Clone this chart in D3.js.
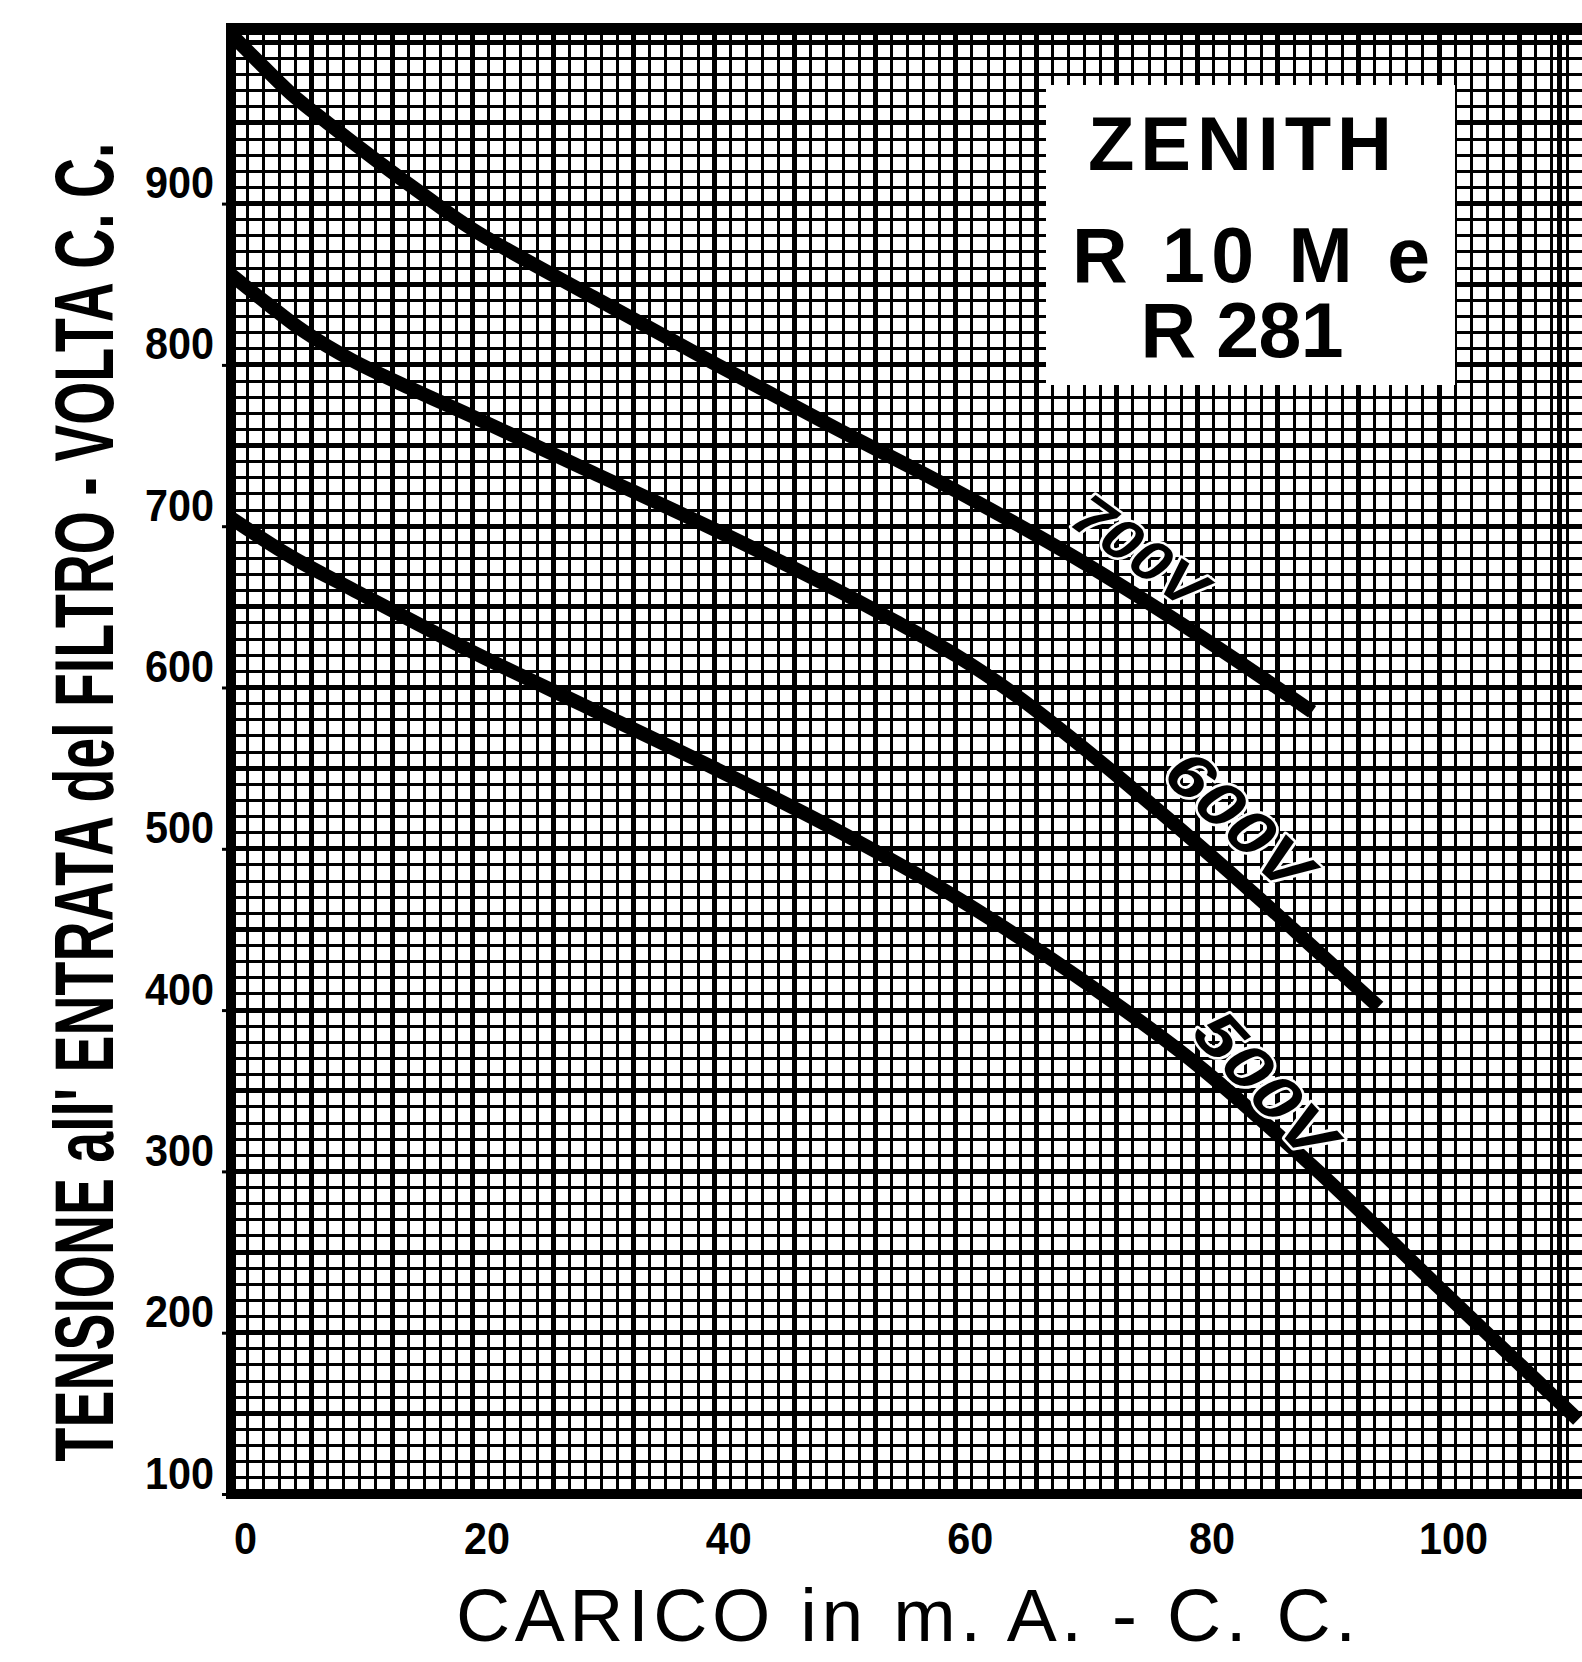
<!DOCTYPE html>
<html>
<head>
<meta charset="utf-8">
<script src="https://cdn.jsdelivr.net/npm/d3@7"></script>
<style>
  html, body { margin: 0; padding: 0; background: #fff; }
  svg { display: block; }
</style>
</head>
<body>
<svg id="chart" width="1582" height="1662"></svg>
<script>
// ---- data ----------------------------------------------------------------
// load current (mA, d.c.) tick labels and input voltage (V, d.c.) tick labels
const loadTicks = [0, 20, 40, 60, 80, 100];
const voltTicks = [100, 200, 300, 400, 500, 600, 700, 800, 900];

// curve names (transformer secondary voltage)
const curveNames = ["700V", "600V", "500V"];

// [load mA, volts at filter input]
const curve700 = [[0, 1005], [2, 990], [5, 968], [8, 950], [12, 927], [16, 905], [20, 884],
                  [30, 842], [40, 801], [50, 761], [60, 722], [70, 680], [80, 633], [89.5, 585]];
const curve600 = [[0, 856], [3, 838], [6, 821], [10, 803], [15, 785], [20, 768], [30, 733],
                  [40, 698], [50, 661], [55, 641], [60, 620], [65, 595], [70, 566], [75, 535],
                  [80, 503], [85, 470], [90, 436], [95, 402]];
const curve500 = [[0, 705], [5, 681], [10, 661], [20, 622], [30, 586], [40, 550], [50, 512],
                  [60, 470], [70, 421], [80, 366], [90, 300], [100, 228], [111.5, 146]];

// graph-paper ruling: one cell = 10 V vertically, 20/15 mA horizontally
const gridStepVolt = 10;
const gridStepLoad = 20 / 15;

const titleLines = ["ZENITH", "R 10 M e", "R 281"];
const xTitle = "CARICO in m. A. - C. C.";
const yTitle = "TENSIONE all' ENTRATA del FILTRO - VOLTA C. C.";

// ---- layout --------------------------------------------------------------
const W = 1582, H = 1662;
const svg = d3.select("#chart");

const x = d3.scaleLinear().domain([0, 112]).range([231, 231 + 112 * 12.08]);
const y = d3.scaleLinear().domain([100, 1008]).range([1494, 1494 - 908 * 1.613]);

const plotLeft = x(0), plotTop = y(1008), plotBottom = y(100), plotRight = W;

svg.append("rect").attr("width", W).attr("height", H).attr("fill", "#fff");

const defs = svg.append("defs");
defs.append("clipPath").attr("id", "plotClip")
  .append("rect")
  .attr("x", plotLeft).attr("y", plotTop)
  .attr("width", plotRight - plotLeft).attr("height", plotBottom - plotTop);

// ---- graph paper ---------------------------------------------------------
const grid = svg.append("g").attr("clip-path", "url(#plotClip)")
  .attr("shape-rendering", "crispEdges").attr("stroke", "#000");

const gx = d3.range(0, 85).map(i => ({ v: i * gridStepLoad, heavy: i % 5 === 0 }));
gx.push({ v: 110, heavy: true });
const gy = d3.range(0, 91).map(i => ({ v: 100 + i * gridStepVolt, heavy: i % 5 === 0 }));

grid.selectAll("line.gx").data(gx).join("line")
  .attr("class", "gx")
  .attr("x1", d => x(d.v)).attr("x2", d => x(d.v))
  .attr("y1", plotTop).attr("y2", plotBottom)
  .attr("stroke-width", d => d.heavy ? 5 : 3);

grid.selectAll("line.gy").data(gy).join("line")
  .attr("class", "gy")
  .attr("x1", plotLeft).attr("x2", plotRight)
  .attr("y1", d => y(d.v)).attr("y2", d => y(d.v))
  .attr("stroke-width", d => d.heavy ? 5 : 3);

// frame: heavy left, top and bottom rules
const frame = svg.append("g").attr("stroke", "#000").attr("shape-rendering", "crispEdges");
frame.append("line").attr("x1", plotLeft).attr("x2", plotLeft)
  .attr("y1", plotTop - 6).attr("y2", plotBottom + 5).attr("stroke-width", 10);
frame.append("line").attr("x1", plotLeft - 5).attr("x2", plotRight)
  .attr("y1", plotTop).attr("y2", plotTop).attr("stroke-width", 12);
frame.append("line").attr("x1", plotLeft - 5).attr("x2", plotRight)
  .attr("y1", plotBottom).attr("y2", plotBottom).attr("stroke-width", 10);

// ---- title panel ---------------------------------------------------------
const panel = svg.append("g");
panel.append("rect")
  .attr("x", 1046).attr("y", 85).attr("width", 409).attr("height", 300)
  .attr("fill", "#fff");
const titleFont = "'Liberation Sans', Arial, Helvetica, sans-serif";
const titleSpec = [
  { cx: 1240, base: 170, size: 76, len: 304 },
  { cx: 1251, base: 282, size: 77, len: 358 },
  { cx: 1242, base: 357, size: 77, len: 203 }
];
panel.selectAll("text").data(titleLines).join("text")
  .attr("x", (d, i) => titleSpec[i].cx)
  .attr("y", (d, i) => titleSpec[i].base)
  .attr("text-anchor", "middle")
  .attr("font-family", titleFont)
  .attr("font-weight", "bold")
  .attr("font-size", (d, i) => titleSpec[i].size)
  .attr("textLength", (d, i) => titleSpec[i].len)
  .attr("lengthAdjust", "spacing")
  .attr("fill", "#000")
  .text(d => d);

// ---- curves --------------------------------------------------------------
const curves = [curve700, curve600, curve500];
const line = d3.line().x(d => x(d[0])).y(d => y(d[1])).curve(d3.curveCatmullRom.alpha(0.5));

svg.append("g").attr("clip-path", "url(#plotClip)")
  .selectAll("path").data(curves).join("path")
  .attr("d", line)
  .attr("fill", "none")
  .attr("stroke", "#000")
  .attr("stroke-width", 14)
  .attr("stroke-linecap", "butt")
  .attr("stroke-linejoin", "round");

// curve labels, set parallel to their curve just above it
function pointAt(data, load) {
  for (let i = 1; i < data.length; i++) {
    if (load <= data[i][0]) {
      const a = data[i - 1], b = data[i];
      const t = (load - a[0]) / (b[0] - a[0]);
      return [x(a[0] + t * (b[0] - a[0])), y(a[1] + t * (b[1] - a[1]))];
    }
  }
  const l = data[data.length - 1];
  return [x(l[0]), y(l[1])];
}
const labelSpec = [
  { at: 73.5, off: 40, size: 58, len: 150, tilt: 4 },
  { at: 81.0, off: 46, size: 64, len: 174, tilt: 2 },
  { at: 84.0, off: 31, size: 64, len: 176, tilt: 6 }
];
const labels = svg.append("g");
curves.forEach((data, k) => {
  const s = labelSpec[k];
  const p0 = pointAt(data, s.at - 3), p1 = pointAt(data, s.at + 3), pc = pointAt(data, s.at);
  const ang = Math.atan2(p1[1] - p0[1], p1[0] - p0[0]);
  const cx = pc[0] + Math.sin(ang) * s.off;
  const cy = pc[1] - Math.cos(ang) * s.off;
  labels.append("text")
    .attr("transform", `translate(${cx},${cy}) rotate(${ang * 180 / Math.PI + s.tilt})`)
    .attr("text-anchor", "middle")
    .attr("dy", "0.36em")
    .attr("font-family", titleFont)
    .attr("font-weight", "bold")
    .attr("font-style", "italic")
    .attr("font-size", s.size)
    .attr("textLength", s.len)
    .attr("lengthAdjust", "spacingAndGlyphs")
    .attr("fill", "#000")
    .attr("stroke", "#fff")
    .attr("stroke-width", 5)
    .attr("paint-order", "stroke")
    .attr("stroke-linejoin", "round")
    .text(curveNames[k]);
});

// ---- axes ----------------------------------------------------------------
const tickFont = "'Liberation Sans', Arial, Helvetica, sans-serif";

const yAxis = svg.append("g")
  .attr("transform", `translate(${plotLeft},0)`)
  .call(d3.axisLeft(y).tickValues(voltTicks).tickSize(9).tickFormat(d3.format("d")));
yAxis.select(".domain").remove();
yAxis.selectAll(".tick line").attr("stroke", "#000").attr("stroke-width", 3);
yAxis.selectAll(".tick text")
  .attr("x", -17).attr("y", -6).attr("dy", null)
  .attr("text-anchor", "end")
  .attr("font-family", tickFont)
  .attr("font-weight", "bold")
  .attr("font-size", 45)
  .attr("textLength", 69)
  .attr("lengthAdjust", "spacingAndGlyphs")
  .attr("fill", "#000");

const xAxis = svg.append("g")
  .attr("transform", `translate(0,${plotBottom})`)
  .call(d3.axisBottom(x).tickValues(loadTicks).tickSize(0).tickFormat(d3.format("d")));
xAxis.select(".domain").remove();
xAxis.selectAll(".tick text")
  .attr("x", 14).attr("y", 60).attr("dy", null)
  .attr("text-anchor", "middle")
  .attr("font-family", tickFont)
  .attr("font-weight", "bold")
  .attr("font-size", 45)
  .attr("textLength", d => String(d).length * 23)
  .attr("lengthAdjust", "spacingAndGlyphs")
  .attr("fill", "#000");

// axis titles
svg.append("text")
  .attr("x", 906).attr("y", 1641)
  .attr("text-anchor", "middle")
  .attr("font-family", titleFont)
  .attr("font-size", 75)
  .attr("textLength", 900)
  .attr("lengthAdjust", "spacing")
  .attr("fill", "#000")
  .text(xTitle);

// vertical title: a condensed bold face, squeezed to span the plot height
const yTitleSpan = 1319;
const yTitleText = svg.append("text")
  .attr("text-anchor", "middle")
  .attr("font-family", titleFont)
  .attr("font-weight", "bold")
  .attr("font-size", 84)
  .attr("fill", "#000")
  .text(yTitle);
const natural = yTitleText.node().getComputedTextLength() || yTitleSpan;
yTitleText.attr("transform",
  `translate(113,802) rotate(-90) scale(${yTitleSpan / natural},1)`);
</script>
</body>
</html>
